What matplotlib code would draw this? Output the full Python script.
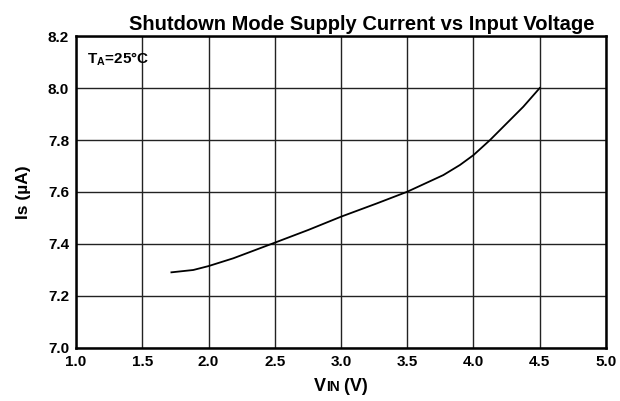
import matplotlib
matplotlib.use("Agg")
import matplotlib.pyplot as plt
from matplotlib.offsetbox import TextArea, HPacker, AnchoredOffsetbox

plt.rcParams["font.family"] = ["Liberation Sans", "DejaVu Sans"]
plt.rcParams["font.weight"] = "bold"
plt.rcParams["mathtext.fontset"] = "custom"
plt.rcParams["mathtext.rm"] = "Liberation Sans:bold"
plt.rcParams["mathtext.bf"] = "Liberation Sans:bold"

# Is vs VIN, TA = 25°C
vin = [1.72, 1.885, 2.0, 2.187, 2.5, 2.753, 3.0, 3.27, 3.5, 3.772, 3.898, 4.0, 4.125, 4.276, 4.376, 4.5]
i_s = [7.291, 7.300, 7.315, 7.345, 7.405, 7.454, 7.505, 7.556, 7.601, 7.665, 7.704, 7.742, 7.800, 7.877, 7.928, 8.0]

x_ticks = [1.0, 1.5, 2.0, 2.5, 3.0, 3.5, 4.0, 4.5, 5.0]
y_ticks = [7.0, 7.2, 7.4, 7.6, 7.8, 8.0, 8.2]

fig = plt.figure(figsize=(6.2, 4.01), dpi=100)
ax = fig.add_axes([0.1226, 0.1322, 0.8548, 0.778])

ax.plot(vin, i_s, color="black", linewidth=1.3)

ax.set_xlim(1.0, 5.0)
ax.set_ylim(7.0, 8.2)
ax.set_xticks(x_ticks)
ax.set_yticks(y_ticks)
ax.set_xticklabels([f"{v:.1f}" for v in x_ticks])
ax.set_yticklabels([f"{v:.1f}" for v in y_ticks])
ax.tick_params(length=0, labelsize=11, pad=5)
for lab in ax.get_xticklabels() + ax.get_yticklabels():
    lab.set_fontweight("bold")

ax.grid(True, color="#222222", linewidth=1.0)
for s in ax.spines.values():
    s.set_linewidth(1.8)
    s.set_color("black")

fig.text(0.584, 0.925, "Shutdown Mode Supply Current vs Input Voltage",
         fontsize=14.5, fontweight="bold", ha="center", va="baseline")

ax.text(1.08, 8.11, r"T$_\mathbf{A}$=25°C", fontsize=11, fontweight="bold",
        va="center", ha="left")

ax.set_ylabel("Is (µA)", fontsize=12.5, fontweight="bold", labelpad=12)

# x label: V + small-caps IN + (V)
parts = HPacker(children=[
    TextArea("V", textprops=dict(fontsize=13, fontweight="bold")),
    TextArea("IN", textprops=dict(fontsize=10, fontweight="bold")),
    TextArea(" (V)", textprops=dict(fontsize=13, fontweight="bold")),
], align="baseline", pad=0, sep=0)
box = AnchoredOffsetbox(loc="center", child=parts, frameon=False,
                        bbox_to_anchor=(0.5, -0.125), bbox_transform=ax.transAxes,
                        borderpad=0, pad=0)
ax.add_artist(box)

fig.savefig("out.png", dpi=100)
